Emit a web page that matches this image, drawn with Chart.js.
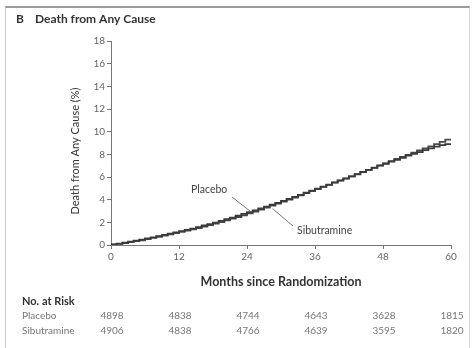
<!DOCTYPE html>
<html>
<head>
<meta charset="utf-8">
<script src="https://cdn.jsdelivr.net/npm/chart.js@4/dist/chart.umd.min.js"></script>
<style>
  html, body { margin: 0; padding: 0; background: #fff; }
  #wrap { position: relative; width: 472px; height: 348px; overflow: hidden; }
  #frame { position: absolute; left: 5px; top: 6px; width: 465px; height: 360px;
           border-left: 1px solid #c8c8c8; border-right: 1px solid #d8d8d8;
           border-top: 2px solid #9a9a9a; box-sizing: border-box; }
  canvas { position: absolute; left: 0; top: 0; }
</style>
</head>
<body>
<div id="wrap">
  <div id="frame"></div>
  <canvas id="c" width="472" height="348"></canvas>
</div>
<script>
// Cumulative death from any cause (%), by month since randomization
const months = [];
for (let m = 0; m <= 60; m++) months.push(m);

const placebo = [0, 0.05, 0.12, 0.2, 0.3, 0.38, 0.48, 0.58, 0.68, 0.78, 0.9, 1.0, 1.12,
  1.22, 1.33, 1.45, 1.58, 1.72, 1.85, 1.98, 2.12, 2.27, 2.42, 2.58, 2.75,
  2.9, 3.05, 3.22, 3.38, 3.55, 3.72, 3.89, 4.06, 4.24, 4.42, 4.61, 4.8,
  4.97, 5.15, 5.33, 5.52, 5.7, 5.88, 6.06, 6.25, 6.44, 6.62, 6.81, 7.0,
  7.17, 7.35, 7.52, 7.7, 7.88, 8.05, 8.2, 8.38, 8.53, 8.68, 8.82, 8.9];

const sibutramine = [0, 0.04, 0.1, 0.17, 0.26, 0.34, 0.42, 0.52, 0.62, 0.73, 0.84, 0.94, 1.05,
  1.15, 1.26, 1.38, 1.5, 1.63, 1.76, 1.89, 2.02, 2.17, 2.32, 2.47, 2.62,
  2.79, 2.95, 3.12, 3.3, 3.47, 3.65, 3.82, 4.0, 4.19, 4.38, 4.57, 4.76,
  4.94, 5.12, 5.31, 5.5, 5.68, 5.86, 6.05, 6.24, 6.43, 6.62, 6.82, 7.02,
  7.21, 7.4, 7.59, 7.78, 7.96, 8.15, 8.34, 8.52, 8.71, 8.9, 9.1, 9.3];

// Number at risk table
const riskMonths = [0, 12, 24, 36, 48, 60];
const riskPlacebo = [4898, 4838, 4744, 4643, 3628, 1815];
const riskSibutramine = [4906, 4838, 4766, 4639, 3595, 1820];

const xTicks = [0, 12, 24, 36, 48, 60];
const yTicks = [0, 2, 4, 6, 8, 10, 12, 14, 16, 18];

const FONT = 'Lato, "Open Sans", sans-serif';

const toPoints = (vals) => months.map((m, i) => ({ x: m, y: vals[i] }));

const decor = {
  id: 'decor',
  afterDraw(chart) {
    const ctx = chart.ctx;
    const xs = chart.scales.x, ys = chart.scales.y;
    ctx.save();

    // panel title
    ctx.fillStyle = '#333';
    ctx.font = 'bold 12px ' + FONT;
    ctx.textBaseline = 'middle';
    ctx.textAlign = 'left';
    ctx.fillText('B', 16, 19);
    ctx.fillText('Death from Any Cause', 35, 19);

    // y axis title
    ctx.save();
    ctx.translate(75, 151);
    ctx.rotate(-Math.PI / 2);
    ctx.textAlign = 'center';
    ctx.font = '11px ' + FONT;
    ctx.fillStyle = '#333';
    ctx.fillText('Death from Any Cause (%)', 0, 0);
    ctx.restore();

    // x axis title
    ctx.textAlign = 'center';
    ctx.font = 'bold 12.5px ' + FONT;
    ctx.fillStyle = '#333';
    ctx.fillText('Months since Randomization', (xs.left + xs.right) / 2, 282);

    // curve labels with leader lines
    ctx.font = '10.5px ' + FONT;
    ctx.fillStyle = '#444';
    ctx.strokeStyle = '#555';
    ctx.lineWidth = 0.8;
    ctx.textAlign = 'left';
    ctx.fillText('Placebo', 191, 190);
    ctx.beginPath();
    ctx.moveTo(232, 197);
    ctx.lineTo(xs.getPixelForValue(25), ys.getPixelForValue(placebo[25]) + 1);
    ctx.stroke();
    ctx.fillText('Sibutramine', 297, 231);
    ctx.beginPath();
    ctx.moveTo(293, 226);
    ctx.lineTo(xs.getPixelForValue(28.5), ys.getPixelForValue(sibutramine[28]) + 1);
    ctx.stroke();

    // number at risk
    ctx.fillStyle = '#333';
    ctx.font = 'bold 11px ' + FONT;
    ctx.textAlign = 'left';
    ctx.fillText('No. at Risk', 22, 301);
    ctx.font = '10px ' + FONT;
    ctx.fillStyle = '#777';
    ctx.fillText('Placebo', 22, 316);
    ctx.fillText('Sibutramine', 22, 331);
    ctx.textAlign = 'center';
    riskMonths.forEach((m, i) => {
      const px = xs.getPixelForValue(m);
      ctx.fillText(String(riskPlacebo[i]), px + 1, 316);
      ctx.fillText(String(riskSibutramine[i]), px + 1, 331);
    });
    ctx.restore();
  }
};

new Chart(document.getElementById('c'), {
  type: 'line',
  data: {
    datasets: [
      { label: 'Placebo', data: toPoints(placebo), stepped: 'after',
        borderColor: '#3a3a3a', borderWidth: 1.8, pointRadius: 0, fill: false },
      { label: 'Sibutramine', data: toPoints(sibutramine), stepped: 'after',
        borderColor: '#4a4a4a', borderWidth: 1.8, pointRadius: 0, fill: false }
    ]
  },
  options: {
    responsive: false,
    animation: false,
    devicePixelRatio: 1,
    layout: { padding: { top: 41, right: 21, left: 0, bottom: 0 } },
    plugins: { legend: { display: false }, tooltip: { enabled: false } },
    scales: {
      x: {
        type: 'linear', min: 0, max: 60,
        afterFit(s) { s.height = 103; },
        afterBuildTicks(s) { s.ticks = xTicks.map(v => ({ value: v })); },
        grid: { drawOnChartArea: false, color: '#777', tickLength: 4 },
        border: { color: '#777', width: 1 },
        ticks: { color: '#666', font: { size: 10, family: FONT }, padding: 2, maxRotation: 0 }
      },
      y: {
        min: 0, max: 18,
        afterFit(s) { s.width = 111; },
        afterBuildTicks(s) { s.ticks = yTicks.map(v => ({ value: v })); },
        grid: { drawOnChartArea: false, color: '#777', tickLength: 4 },
        border: { color: '#777', width: 1 },
        ticks: { color: '#666', font: { size: 10, family: FONT }, padding: 2 }
      }
    }
  },
  plugins: [decor]
});
</script>
</body>
</html>
